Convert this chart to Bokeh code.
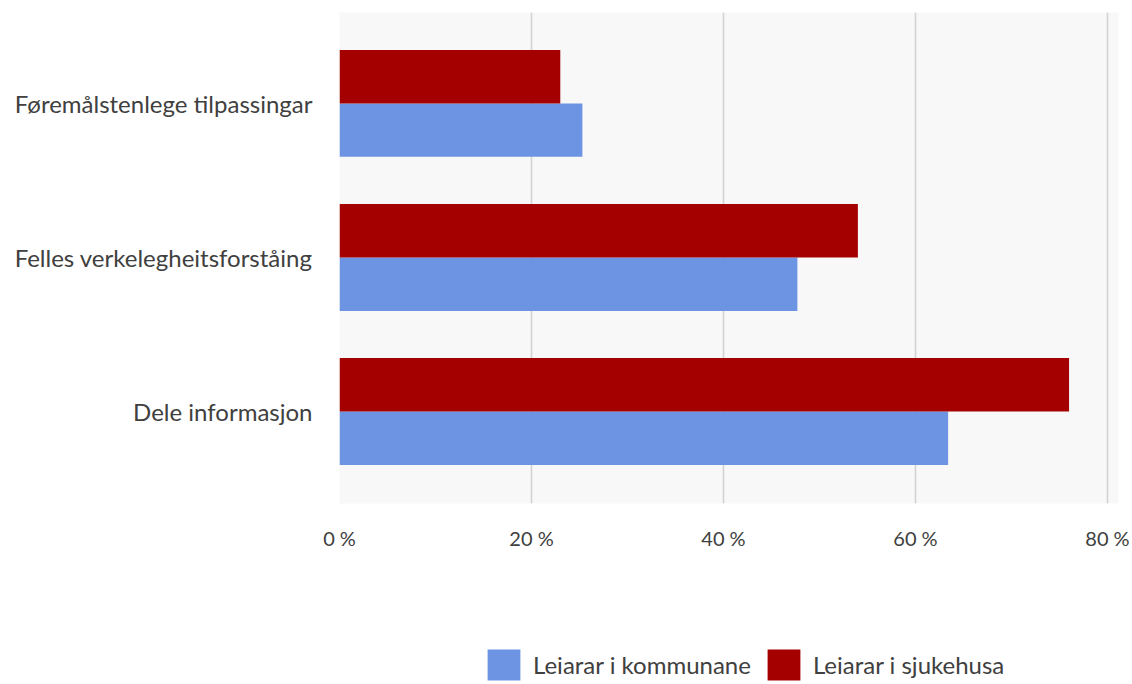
from bokeh.plotting import figure
from bokeh.layouts import column
from bokeh.models import Range1d, FixedTicker, PrintfTickFormatter, Legend, LegendItem
from bokeh.embed import file_html
from bokeh.resources import INLINE

categories = ["Føremålstenlege tilpassingar", "Felles verkelegheitsforståing", "Dele informasjon"]
kommunane = [25.3, 47.7, 63.4]
sjukehusa = [23.0, 54.0, 76.0]
x_ticks = [0, 20, 40, 60, 80]
series_names = ["Leiarar i kommunane", "Leiarar i sjukehusa"]
colors = ["#6d94e2", "#a50000"]

n = len(categories)
pos = [n - 1 - i for i in range(n)]
bh = 0.347

p = figure(width=1132, height=608, output_backend="svg", toolbar_location=None,
           x_range=Range1d(0, 81.15), y_range=Range1d(-0.597, 2.59),
           min_border_left=339, min_border_right=14, min_border_top=12, min_border_bottom=105)
p.background_fill_color = "#f8f8f8"
p.border_fill_color = "white"
p.outline_line_color = None

p.hbar(y=[v - bh / 2 for v in pos], right=kommunane, left=0, height=bh,
       fill_color=colors[0], line_color=None)
p.hbar(y=[v + bh / 2 for v in pos], right=sjukehusa, left=0, height=bh,
       fill_color=colors[1], line_color=None)

p.xaxis.ticker = FixedTicker(ticks=x_ticks)
p.xaxis.formatter = PrintfTickFormatter(format="%d %%")
p.xaxis.axis_line_color = None
p.xaxis.major_tick_line_color = None
p.xaxis.minor_tick_line_color = None
p.xaxis.major_label_standoff = 16
p.xaxis.major_label_text_font = "Lato"
p.xaxis.major_label_text_font_size = "20px"
p.xaxis.major_label_text_color = "#404040"

p.yaxis.ticker = FixedTicker(ticks=pos)
p.yaxis.major_label_overrides = {pos[i]: categories[i] for i in range(n)}
p.yaxis.axis_line_color = None
p.yaxis.major_tick_line_color = None
p.yaxis.minor_tick_line_color = None
p.yaxis.major_label_standoff = 21
p.yaxis.major_label_text_font = "Lato"
p.yaxis.major_label_text_font_size = "24px"
p.yaxis.major_label_text_color = "#404040"

p.xgrid.ticker = FixedTicker(ticks=x_ticks)
p.xgrid.grid_line_color = "#d2d2d2"
p.xgrid.grid_line_width = 1.6
p.ygrid.grid_line_color = None

# legend strip below the chart (zero-size bars only carry the legend swatches)
pl = figure(width=1132, height=76, output_backend="svg", toolbar_location=None,
            x_range=Range1d(0, 1), y_range=Range1d(0, 1), min_border=0)
pl.axis.visible = False
pl.grid.visible = False
pl.outline_line_color = None
pl.background_fill_color = "white"
lr = [pl.hbar(y=[0], right=[0], left=[0], height=[0], fill_color=c, line_color=None)
      for c in colors]

legend = Legend(items=[LegendItem(label=series_names[i], renderers=[lr[i]]) for i in range(2)],
                orientation="horizontal", location=(144, 0),
                glyph_width=41, glyph_height=39, label_standoff=9, spacing=12,
                padding=0, margin=0, border_line_color=None, background_fill_alpha=0,
                label_text_font="Lato", label_text_font_size="24px",
                label_text_color="#404040")
pl.add_layout(legend, "center")

layout = column(p, pl, spacing=0)
open("out.html", "w").write(file_html(layout, INLINE))
